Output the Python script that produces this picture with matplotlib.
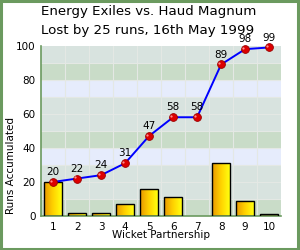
import matplotlib
matplotlib.use("Agg")
import matplotlib.pyplot as plt
import numpy as np
from matplotlib.patches import Rectangle

wickets = [1, 2, 3, 4, 5, 6, 7, 8, 9, 10]
partnership = [20, 2, 2, 7, 16, 11, 0, 31, 9, 1]
accumulated = [20, 22, 24, 31, 47, 58, 58, 89, 98, 99]
y_ticks = [0, 20, 40, 60, 80, 100]

title1 = "Energy Exiles vs. Haud Magnum"
title2 = "Lost by 25 runs, 16th May 1999"

band_colors = ["#c9dcc8", "#d8e3df", "#d8e3df", "#e6ecfc"]
border = "#6b9a5f"

fig = plt.figure(figsize=(3.0, 2.5), dpi=100)
fig.patch.set_facecolor("white")
fig.add_artist(Rectangle((0.004, 0.004), 0.99, 0.992, transform=fig.transFigure,
                         fill=False, edgecolor=border, linewidth=2.2))

ax = fig.add_axes([0.137, 0.136, 0.80, 0.681])

# background bands
for i, lo in enumerate(range(0, 100, 10)):
    ax.axhspan(lo, lo + 10, color=band_colors[i % 4], zorder=0, linewidth=0)
for y in range(10, 100, 10):
    ax.axhline(y, color="#e4e8e4", linewidth=0.8, zorder=0.5)
for x in np.arange(1.5, 10.5, 1.0):
    ax.axvline(x, color="#e4e8e4", linewidth=0.8, zorder=0.5)

# gradient bars
grad = np.linspace(0, 1, 64).reshape(1, -1)
cmap = matplotlib.colors.LinearSegmentedColormap.from_list("gold", ["#e89800", "#ffd200", "#ffff10"])
bw = 0.72
for x, h in zip(wickets, partnership):
    if h <= 0:
        continue
    im = ax.imshow(grad, cmap=cmap, aspect="auto", extent=(x - bw / 2, x + bw / 2, 0, h),
                   zorder=2, interpolation="bilinear")
    rect = Rectangle((x - bw / 2, 0), bw, h, fill=False, edgecolor="black", linewidth=1.0, zorder=3)
    ax.add_patch(rect)
    im.set_clip_path(rect)
ax.set_xlim(0.5, 10.5)
ax.set_ylim(0, 100)

ax.plot(wickets, accumulated, color="#0000ff", linewidth=1.4, zorder=4)
ax.plot(wickets, accumulated, "o", markersize=5.6, markerfacecolor="#dd0000",
        markeredgecolor="#990000", markeredgewidth=0.6, zorder=5, clip_on=False)
ax.plot(np.array(wickets) - 0.07, np.array(accumulated) + 0.8, "o", markersize=1.6,
        color="#ff9090", markeredgewidth=0, zorder=6, clip_on=False)
for x, y in zip(wickets, accumulated):
    ax.text(x, y + 2.8, str(y), ha="center", va="bottom", fontsize=7.5, zorder=7)

for s in ["top", "right"]:
    ax.spines[s].set_visible(False)
for s in ["left", "bottom"]:
    ax.spines[s].set_color(border)
    ax.spines[s].set_linewidth(1.2)
ax.set_xticks(wickets)
ax.set_yticks(y_ticks)
ax.tick_params(length=0, labelsize=7.5, pad=4)
ax.set_xlabel("Wicket Partnership", fontsize=7.5, labelpad=-1)

fig.text(0.037, 0.336, "Runs Accumulated", fontsize=7.5, rotation=90, ha="center", va="center")
fig.text(0.137, 0.952, title1, fontsize=9.6, ha="left", va="center")
fig.text(0.137, 0.878, title2, fontsize=9.6, ha="left", va="center")

fig.savefig("out.png", dpi=100)
